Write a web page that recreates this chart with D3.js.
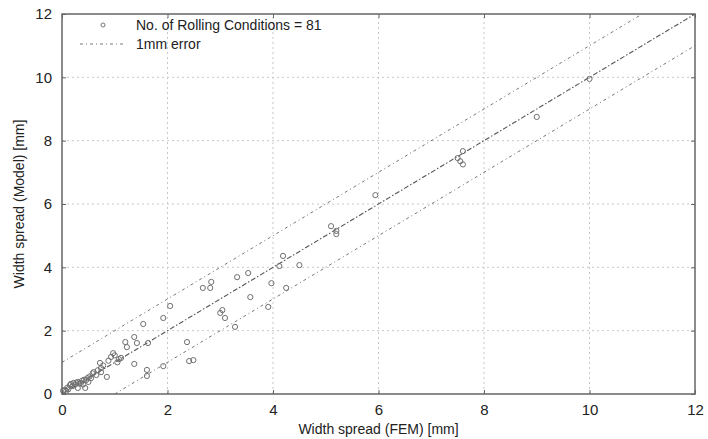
<!DOCTYPE html>
<html><head><meta charset="utf-8">
<script src="https://cdn.jsdelivr.net/npm/d3@7"></script>
<style>body{margin:0;background:#fff;}svg{display:block;}</style>
</head><body>
<script>
const fem = [10.0,9.0,7.6,7.5,7.55,7.6,5.94,5.1,5.2,5.2,
 4.19,4.12,4.5,3.97,4.25,3.91,3.57,3.53,3.32,2.83,2.81,2.67,3.04,3.0,3.09,3.28,
 2.05,1.92,1.54,1.37,1.42,1.63,1.2,1.23,2.37,1.12,1.37,1.61,1.61,1.92,2.41,2.49,
 0.02,0.05,0.08,0.1,0.12,0.15,0.17,0.2,0.22,0.25,0.27,0.3,0.3,0.33,0.36,0.38,0.4,0.42,0.44,0.46,0.48,0.5,0.52,0.55,0.58,0.6,0.65,0.68,0.72,0.74,0.74,0.78,0.85,0.88,0.93,0.97,1.0,1.05,1.08];
const model = [9.95,8.75,7.67,7.45,7.35,7.25,6.28,5.3,5.15,5.05,
 4.36,4.04,4.07,3.5,3.35,2.75,3.06,3.82,3.69,3.54,3.35,3.35,2.65,2.56,2.4,2.12,
 2.78,2.4,2.21,1.8,1.61,1.61,1.64,1.48,1.64,1.14,0.95,0.76,0.57,0.88,1.04,1.07,
 0.1,0.13,0.1,0.2,0.15,0.28,0.32,0.25,0.35,0.3,0.36,0.19,0.38,0.33,0.35,0.42,0.3,0.45,0.19,0.44,0.5,0.38,0.55,0.5,0.65,0.69,0.6,0.75,0.98,0.82,0.69,0.9,0.54,1.05,1.17,1.29,1.22,1.0,1.1];
const xTicks = [0,2,4,6,8,10,12];
const yTicks = [0,2,4,6,8,10,12];
const xLabel = "Width spread (FEM) [mm]";
const yLabel = "Width spread (Model) [mm]";
const legendPoints = "No. of Rolling Conditions = 81";
const legendError = "1mm error";
const refOffsets = [0];
const errOffsets = [1,-1];

const W=708,H=439;
const m={l:62,r:13,t:14,b:45};
const svg=d3.select("body").append("svg").attr("width",W).attr("height",H);
const x=d3.scaleLinear().domain([0,12]).range([m.l,W-m.r]);
const y=d3.scaleLinear().domain([0,12]).range([H-m.b,m.t]);
const font="Liberation Sans, Arial, sans-serif";

// grid
const g=svg.append("g");
g.selectAll(".gx").data(xTicks.slice(1,-1)).join("line")
 .attr("x1",d=>x(d)).attr("x2",d=>x(d)).attr("y1",y(0)).attr("y2",y(12))
 .attr("stroke","#c8c8c8").attr("stroke-dasharray","2,3").attr("stroke-width",1);
g.selectAll(".gy").data(yTicks.slice(1,-1)).join("line")
 .attr("y1",d=>y(d)).attr("y2",d=>y(d)).attr("x1",x(0)).attr("x2",x(12))
 .attr("stroke","#c8c8c8").attr("stroke-dasharray","2,3").attr("stroke-width",1);

// clip
svg.append("clipPath").attr("id","c").append("rect")
 .attr("x",x(0)).attr("y",y(12)).attr("width",x(12)-x(0)).attr("height",y(0)-y(12));
const lines=svg.append("g").attr("clip-path","url(#c)");
function lineFor(off){
  return [[Math.max(0,-off),Math.max(0,-off)+off],[Math.min(12,12-off),Math.min(12,12-off)+off]];
}
refOffsets.forEach(o=>{
  const p=lineFor(o);
  lines.append("line").attr("x1",x(p[0][0])).attr("y1",y(p[0][1])).attr("x2",x(p[1][0])).attr("y2",y(p[1][1]))
   .attr("stroke","#555").attr("stroke-width",1.1).attr("stroke-dasharray","5,2,1.5,2");
});
errOffsets.forEach(o=>{
  const p=lineFor(o);
  lines.append("line").attr("x1",x(p[0][0])).attr("y1",y(p[0][1])).attr("x2",x(p[1][0])).attr("y2",y(p[1][1]))
   .attr("stroke","#777").attr("stroke-width",1).attr("stroke-dasharray","3,3,1,3");
});

// points
svg.append("g").selectAll("circle").data(fem.map((d,i)=>[d,model[i]])).join("circle")
 .attr("cx",d=>x(d[0])).attr("cy",d=>y(d[1])).attr("r",2.6)
 .attr("fill","none").attr("stroke","#707070").attr("stroke-width",1);

// frame
svg.append("rect").attr("x",x(0)).attr("y",y(12)).attr("width",x(12)-x(0)).attr("height",y(0)-y(12))
 .attr("fill","none").attr("stroke","#666").attr("stroke-width",1.5);

// axes
const xa=svg.append("g").attr("transform",`translate(0,${y(0)})`)
 .call(d3.axisBottom(x).tickValues(xTicks).tickSize(-4).tickPadding(10).tickFormat(d3.format("d")));
const xt=svg.append("g").attr("transform",`translate(0,${y(12)})`)
 .call(d3.axisTop(x).tickValues(xTicks).tickSize(-4).tickFormat(""));
const ya=svg.append("g").attr("transform",`translate(${x(0)},0)`)
 .call(d3.axisLeft(y).tickValues(yTicks).tickSize(-4).tickPadding(10).tickFormat(d3.format("d")));
const yr=svg.append("g").attr("transform",`translate(${x(12)},0)`)
 .call(d3.axisRight(y).tickValues(yTicks).tickSize(-4).tickFormat(""));
[xa,xt,ya,yr].forEach(a=>{
  a.select(".domain").remove();
  a.selectAll(".tick line").attr("stroke","#666");
  a.selectAll("text").attr("font-family",font).attr("font-size",15).attr("fill","#222");
});

// labels
svg.append("text").attr("x",(x(0)+x(12))/2).attr("y",434).attr("text-anchor","middle")
 .attr("font-family",font).attr("font-size",14).attr("fill","#222").text(xLabel);
svg.append("text").attr("transform",`translate(24,${(y(0)+y(12))/2}) rotate(-90)`).attr("text-anchor","middle")
 .attr("font-family",font).attr("font-size",14).attr("fill","#222").text(yLabel);

// legend
const lg=svg.append("g");
lg.append("circle").attr("cx",103).attr("cy",25).attr("r",2).attr("fill","none").attr("stroke","#777");
lg.append("text").attr("x",136).attr("y",30).attr("font-family",font).attr("font-size",14).attr("fill","#222").text(legendPoints);
lg.append("line").attr("x1",80).attr("x2",126).attr("y1",44).attr("y2",44)
 .attr("stroke","#777").attr("stroke-dasharray","3,3,1,3");
lg.append("text").attr("x",136).attr("y",49).attr("font-family",font).attr("font-size",14).attr("fill","#222").text(legendError);
</script>
</body></html>
